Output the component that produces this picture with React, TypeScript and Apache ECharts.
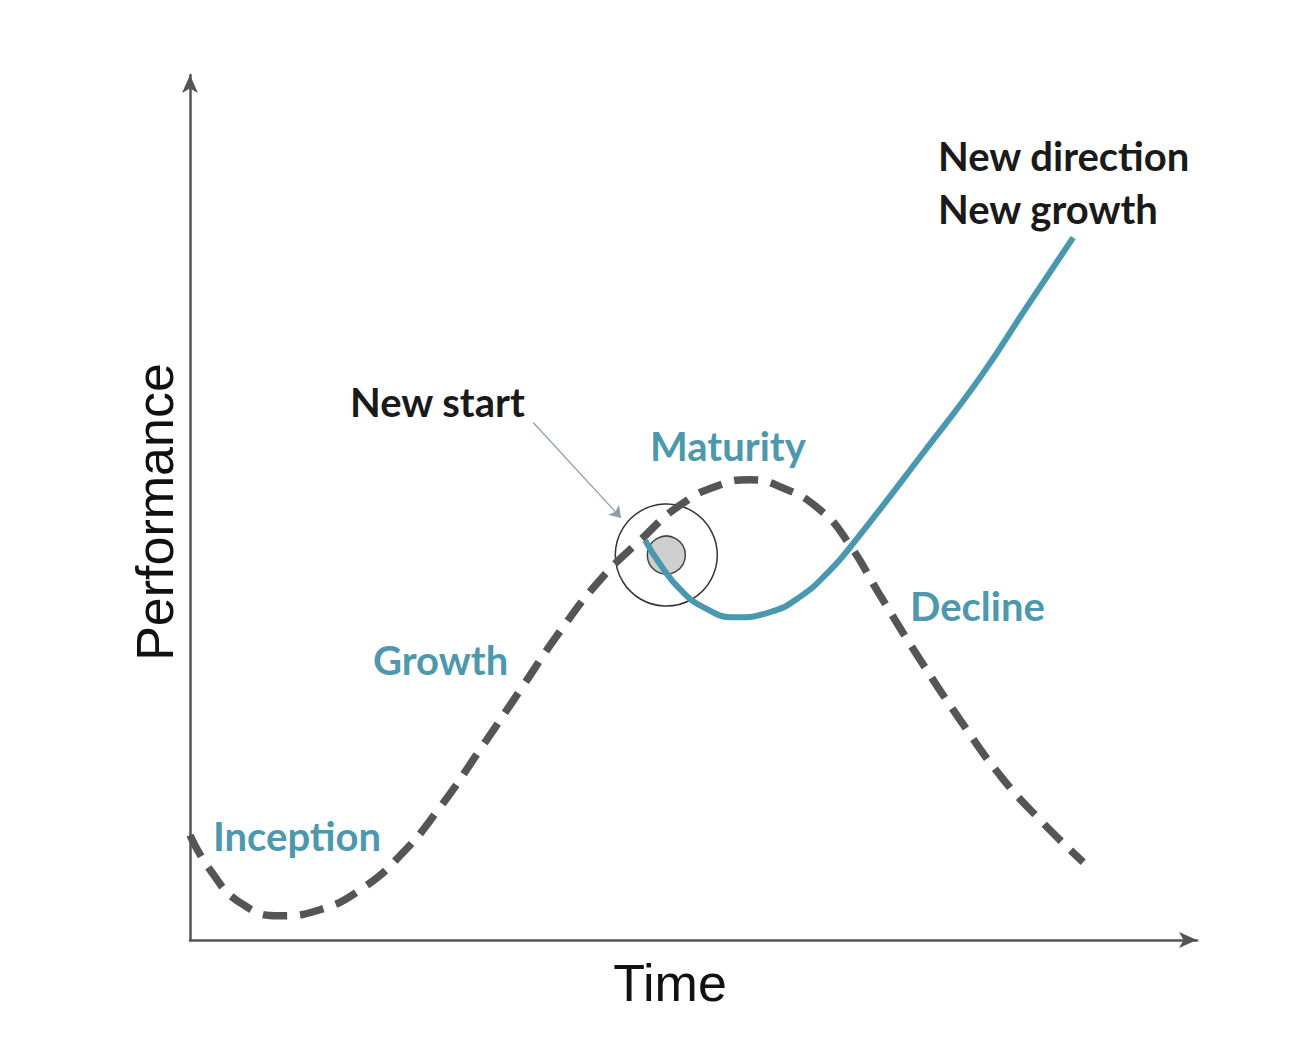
import React, { useEffect, useRef } from "react";
import * as echarts from "echarts";

// Dashed life-cycle curve (x: time, y: performance), in axis units 0..100
const cycleX = [0, 2.0, 5.0, 8.9, 12.9, 16.9, 20.9, 24.8, 28.8, 32.8, 36.7, 40.7, 44.7, 48.7, 52.6, 55.6, 58.6, 62.6, 65.5, 68.5, 72.5, 76.5, 80.4, 84.4, 88.7];
const cycleY = [12.1, 8.1, 4.3, 2.8, 3.5, 5.8, 9.8, 15.3, 22.0, 28.9, 35.6, 41.6, 46.2, 50.3, 52.6, 53.2, 52.4, 49.7, 45.7, 39.9, 32.4, 25.4, 19.1, 13.9, 9.0];

// New growth curve
const growthX = [45.2, 46.7, 48.7, 51.1, 54.1, 57.6, 60.6, 63.6, 65.9, 72.8, 78.5, 83.1, 87.7];
const growthY = [46.2, 43.4, 40.5, 38.4, 37.3, 37.9, 39.7, 42.8, 45.9, 56.3, 65.1, 73.2, 81.2];

// New start marker point
const startPoint = [47.3, 44.5];
// Pointer from "New start" label to the marker
const pointerFrom = [34.1, 59.8];
const pointerTo = [42.8, 48.8];

const labels = [
  { text: "New direction", x: 938, y: 156, color: "#1a1a1a" },
  { text: "New growth", x: 938, y: 209, color: "#1a1a1a" },
  { text: "New start", x: 350, y: 402, color: "#1a1a1a" },
  { text: "Maturity", x: 650, y: 446, color: "#4d98ad" },
  { text: "Decline", x: 910, y: 606, color: "#4d98ad" },
  { text: "Growth", x: 373, y: 660, color: "#4d98ad" },
  { text: "Inception", x: 213, y: 836, color: "#4d98ad" },
];

export default function App() {
  const ref = useRef<HTMLDivElement>(null);
  useEffect(() => {
    document.body.style.margin = "0";
    const chart = echarts.init(ref.current!, null, { renderer: "svg" });
    const axisCommon = {
      type: "value",
      min: 0,
      max: 100,
      axisLine: {
        show: true,
        symbol: ["none", "arrow"],
        symbolSize: [12, 18],
        lineStyle: { color: "#555", width: 2.5 },
      },
      axisTick: { show: false },
      axisLabel: { show: false },
      splitLine: { show: false },
    };
    chart.setOption({
      animation: false,
      backgroundColor: "#fff",
      grid: { left: 190, right: 111, top: 75, bottom: 104 },
      xAxis: { ...axisCommon },
      yAxis: { ...axisCommon },
      series: [
        {
          type: "scatter",
          z: 1,
          data: [startPoint],
          symbol: "circle",
          symbolSize: 102,
          itemStyle: { color: "rgba(0,0,0,0)", borderColor: "#333", borderWidth: 1.5, opacity: 1 },
          silent: true,
        },
        {
          type: "scatter",
          z: 1,
          data: [startPoint],
          symbol: "circle",
          symbolSize: 38,
          itemStyle: { color: "#cfcfcf", borderColor: "#444", borderWidth: 1.5, opacity: 1 },
          silent: true,
        },
        {
          type: "line",
          z: 2,
          smooth: true,
          showSymbol: false,
          data: cycleX.map((x, i) => [x, cycleY[i]]),
          lineStyle: { color: "#555", width: 7.5, type: [24, 13] },
          markLine: {
            silent: true,
            symbol: ["none", "arrow"],
            symbolSize: 11,
            label: { show: false },
            lineStyle: { color: "#8a9ea4", width: 1.2, type: "solid" },
            data: [[{ coord: pointerFrom }, { coord: pointerTo }]],
          },
        },
        {
          type: "line",
          z: 3,
          smooth: true,
          showSymbol: false,
          data: growthX.map((x, i) => [x, growthY[i]]),
          lineStyle: { color: "#4a98b0", width: 6 },
        },
      ],
      graphic: [
        ...labels.map((l) => ({
          type: "text",
          x: l.x,
          y: l.y,
          style: {
            text: l.text,
            fill: l.color,
            font: "bold 40px Lato",
            verticalAlign: "middle",
          },
        })),
        {
          type: "text",
          x: 670,
          y: 983,
          style: {
            text: "Time",
            fill: "#111",
            font: "52px 'Liberation Sans'",
            align: "center",
            verticalAlign: "middle",
          },
        },
        {
          type: "text",
          x: 155,
          y: 512,
          rotation: Math.PI / 2,
          style: {
            text: "Performance",
            fill: "#111",
            font: "52px 'Liberation Sans'",
            align: "center",
            verticalAlign: "middle",
          },
        },
      ],
    });
    return () => chart.dispose();
  }, []);
  return <div ref={ref} style={{ width: 1308, height: 1044 }} />;
}
